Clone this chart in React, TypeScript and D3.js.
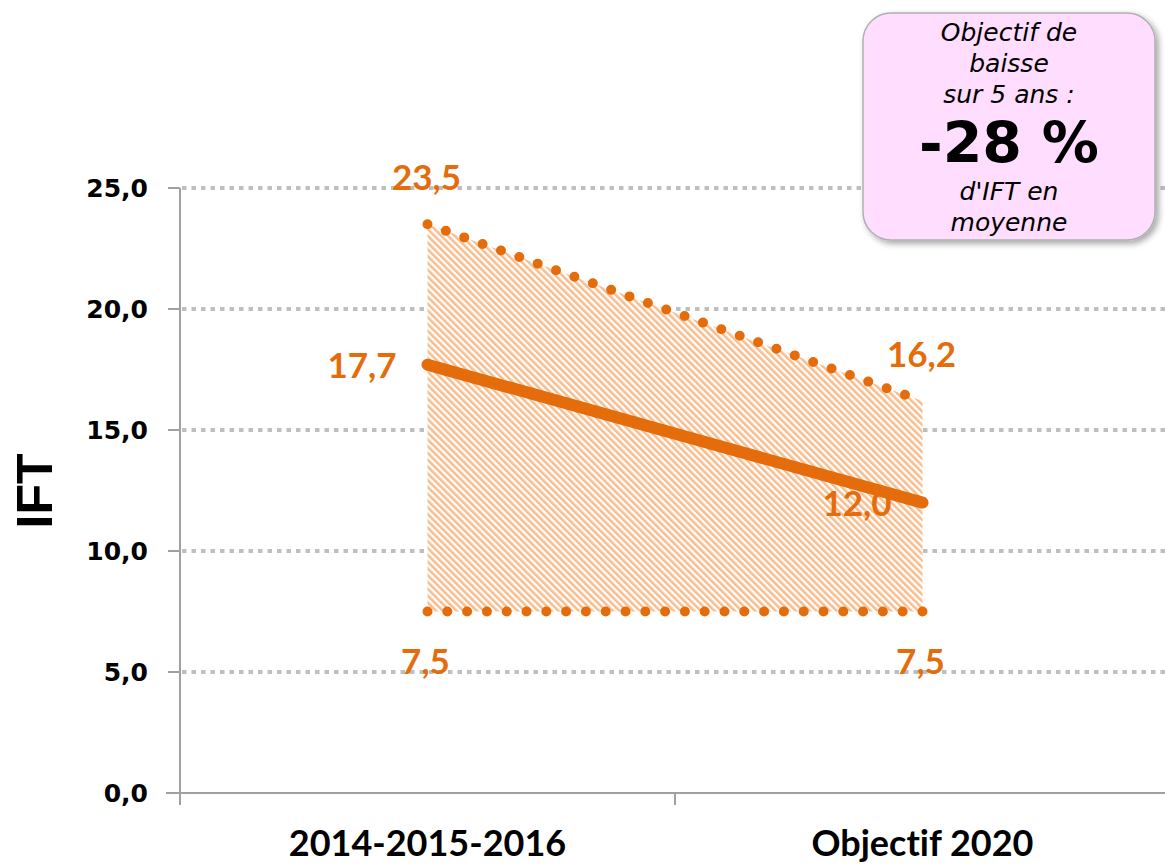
import React from "react";
import * as d3 from "d3";

const categories = ["2014-2015-2016", "Objectif 2020"];
const maxValues = [23.5, 16.2];
const meanValues = [17.7, 12.0];
const minValues = [7.5, 7.5];
const yTicks = [0, 5, 10, 15, 20, 25];
const boxTopLines = ["Objectif de", "baisse", "sur 5 ans :"];
const boxHighlight = "-28 %";
const boxBottomLines = ["d'IFT en", "moyenne"];
const yTitle = "IFT";

const W = 1165;
const H = 865;
const ORANGE = "#E46C0A";
const fmt = (v: number) => v.toFixed(1).replace(".", ",");

export default function App() {
  const x = d3.scaleBand<string>().domain(categories).range([180, 1170]).paddingInner(0).paddingOuter(0);
  const y = d3.scaleLinear().domain([0, 25]).range([793, 188]);
  const cx = (i: number) => (x(categories[i]) as number) + x.bandwidth() / 2;

  const idx = categories.map((_, i) => i);
  const area = d3
    .area<number>()
    .x((i) => cx(i))
    .y0((i) => y(minValues[i]))
    .y1((i) => y(maxValues[i]));
  const lineOf = (arr: number[]) =>
    d3
      .line<number>()
      .x((i) => cx(i))
      .y((i) => y(arr[i]))(idx) as string;

  const tickFont = "'DejaVu Sans', Verdana, sans-serif";
  const labelFont = "Lato, 'Open Sans', sans-serif";
  const noLiga = { fontVariantLigatures: "none", fontFeatureSettings: "'liga' 0" } as React.CSSProperties;

  const bx = 863, by = 13, bw = 292, bh = 227;
  const bcx = bx + bw / 2;

  return (
    <svg width={W} height={H} style={{ position: "absolute", left: 0, top: 0, background: "#fff" }}>
      <defs>
        <pattern id="hatch" patternUnits="userSpaceOnUse" width={4.8} height={4.8} patternTransform="rotate(-45)">
          <rect width={4.8} height={4.8} fill="#fff" />
          <rect x={0} y={0} width={2.5} height={4.8} fill="#F9BC8C" />
        </pattern>
        <filter id="shadow" x="-10%" y="-10%" width="130%" height="130%">
          <feDropShadow dx={3} dy={3} stdDeviation={3} floodColor="#000" floodOpacity={0.35} />
        </filter>
      </defs>

      {/* gridlines */}
      {yTicks.filter((t) => t > 0).map((t) => (
        <line key={"g" + t} x1={182} x2={W} y1={y(t)} y2={y(t)} stroke="#BFBFBF" strokeWidth={4} strokeDasharray="4.5 5" />
      ))}

      {/* hatched range area */}
      <path d={area(idx) as string} fill="url(#hatch)" />

      {/* axes */}
      <line x1={180} x2={180} y1={188} y2={805} stroke="#A0A0A0" strokeWidth={2} />
      <line x1={166} x2={W} y1={y(0)} y2={y(0)} stroke="#A0A0A0" strokeWidth={2} />
      {yTicks.map((t) => (
        <line key={"yt" + t} x1={168} x2={180} y1={y(t)} y2={y(t)} stroke="#A0A0A0" strokeWidth={2} />
      ))}
      {categories.map((c) => (
        <line key={"xt" + c} x1={x(c) as number} x2={x(c) as number} y1={793} y2={805} stroke="#A0A0A0" strokeWidth={2} />
      ))}
      {yTicks.map((t) => (
        <text key={"yl" + t} x={148} y={y(t) + 9} textAnchor="end" fontFamily={tickFont} fontWeight="bold" fontSize={25} fill="#000">
          {fmt(t)}
        </text>
      ))}
      {categories.map((c, i) => (
        <text key={"xl" + c} x={cx(i)} y={856} textAnchor="middle" fontFamily={labelFont} fontWeight="bold" fontSize={36} fill="#000" style={noLiga}>
          {c}
        </text>
      ))}
      <text
        transform={`translate(52,491) rotate(-90)`}
        textAnchor="middle"
        fontFamily="'Liberation Sans', Arial, sans-serif"
        fontWeight="bold"
        fontSize={50}
        fill="#000"
      >
        {yTitle}
      </text>

      {/* dotted max and min lines */}
      <path d={lineOf(maxValues)} fill="none" stroke={ORANGE} strokeWidth={10} strokeLinecap="round" strokeDasharray="0 19.5" />
      <path d={lineOf(minValues)} fill="none" stroke={ORANGE} strokeWidth={10} strokeLinecap="round" strokeDasharray="0 19.8" />
      {/* mean line */}
      <path d={lineOf(meanValues)} fill="none" stroke={ORANGE} strokeWidth={12} strokeLinecap="round" />

      {/* data labels */}
      {idx.map((i) => (
        <g key={"lab" + i} fontFamily={labelFont} fontWeight="bold" fontSize={35} fill={ORANGE}>
          <text x={cx(i) - 1} y={y(maxValues[i]) - 34} textAnchor="middle">{fmt(maxValues[i])}</text>
          <text x={cx(i) - 31} y={y(meanValues[i]) + 13} textAnchor="end">{fmt(meanValues[i])}</text>
          <text x={cx(i) - 2} y={y(minValues[i]) + 62} textAnchor="middle">{fmt(minValues[i])}</text>
        </g>
      ))}

      {/* annotation box */}
      <rect x={bx} y={by} width={bw} height={bh} rx={28} ry={28} fill="#FFDDFF" stroke="#B0B0B0" strokeWidth={1.5} filter="url(#shadow)" />
      {boxTopLines.map((l, k) => (
        <text key={"bt" + k} x={bcx} y={41 + k * 31} textAnchor="middle" fontFamily={tickFont} fontStyle="italic" fontSize={25} fill="#000">
          {l}
        </text>
      ))}
      <text x={bcx} y={163} textAnchor="middle" fontFamily={tickFont} fontWeight="bold" fontSize={57} fill="#000">
        {boxHighlight}
      </text>
      {boxBottomLines.map((l, k) => (
        <text key={"bb" + k} x={bcx} y={200 + k * 31} textAnchor="middle" fontFamily={tickFont} fontStyle="italic" fontSize={25} fill="#000">
          {l}
        </text>
      ))}
    </svg>
  );
}
